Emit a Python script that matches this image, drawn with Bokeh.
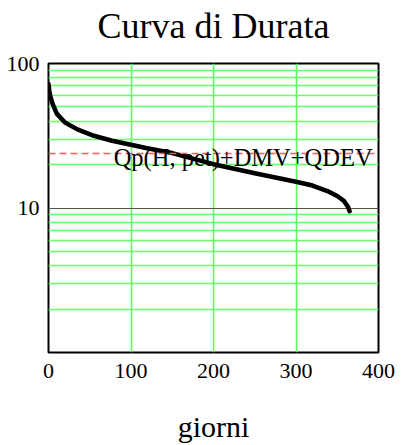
from bokeh.plotting import figure
from bokeh.models import FixedTicker, NumeralTickFormatter, Span, Label
from bokeh.embed import file_html
from bokeh.resources import INLINE

# --- data ---
days = [0, 1, 2, 5, 10, 20, 35, 55, 77, 100, 118, 150, 200, 250, 300, 320, 338, 350, 358, 363, 365]
flow = [72, 65, 60, 52.5, 45, 39, 35, 31.6, 29.2, 27.4, 26, 24, 20.1, 17.4, 15.2, 14.3, 13.1, 12.1, 11.2, 10.2, 9.5]
threshold = 23.8
threshold_label = "Qp(H, pet)+DMV+QDEV"
x_ticks = [0, 100, 200, 300, 400]
y_major = [10, 100]
y_minor = [2, 3, 4, 5, 6, 7, 8, 9, 20, 30, 40, 50, 60, 70, 80, 90]

SERIF = "Liberation Serif"

p = figure(width=404, height=445, y_axis_type="log",
           x_range=(0, 400), y_range=(1, 100),
           output_backend="svg", toolbar_location=None,
           min_border_left=48, min_border_right=26,
           min_border_top=63, min_border_bottom=93)

p.title.text = "Curva di Durata"
p.title.text_font = SERIF
p.title.text_font_size = "36px"
p.title.text_font_style = "normal"
p.title.align = "center"
p.title.text_color = "black"
p.title.standoff = 0
p.title.padding = dict(left=0, right=0, top=0, bottom=18)

p.outline_line_color = "black"
p.outline_line_width = 2
p.background_fill_color = "white"
p.border_fill_color = "white"

# x axis
p.xaxis.ticker = FixedTicker(ticks=x_ticks)
p.xaxis.major_label_text_font = SERIF
p.xaxis.major_label_text_font_size = "22px"
p.xaxis.major_label_text_color = "black"
p.xaxis.major_tick_line_color = None
p.xaxis.minor_tick_line_color = None
p.xaxis.axis_line_color = None
p.xaxis.major_label_standoff = 5
p.xaxis.axis_label = "giorni"
p.xaxis.axis_label_text_font = SERIF
p.xaxis.axis_label_text_font_size = "30px"
p.xaxis.axis_label_text_font_style = "normal"
p.xaxis.axis_label_text_color = "black"
p.xaxis.axis_label_standoff = 29

# y axis
yt = FixedTicker(ticks=y_major, minor_ticks=y_minor)
p.yaxis.ticker = yt
p.yaxis.formatter = NumeralTickFormatter(format="0")
p.yaxis.major_label_text_font = SERIF
p.yaxis.major_label_text_font_size = "22px"
p.yaxis.major_label_text_color = "black"
p.yaxis.major_tick_line_color = None
p.yaxis.minor_tick_line_color = None
p.yaxis.axis_line_color = None
p.yaxis.major_label_standoff = 3

# grids
p.xgrid.grid_line_color = "#55ff55"
p.xgrid.grid_line_width = 1.5
p.ygrid.ticker = yt
p.ygrid.grid_line_color = "#555555"
p.ygrid.grid_line_width = 1
p.ygrid.minor_grid_line_color = "#66ff66"
p.ygrid.minor_grid_line_width = 1.5

# threshold line
p.add_layout(Span(location=threshold, dimension="width", line_color="#ff5a5a",
                  line_width=1.5, line_dash="7 4"))
p.add_layout(Label(x=79, y=22.3, text=threshold_label, text_font=SERIF,
                   text_font_size="24.5px", text_color="black",
                   text_baseline="alphabetic", text_align="left"))

# duration curve
p.line(days, flow, line_color="black", line_width=4.5, line_cap="round", line_join="round")

open("out.html", "w").write(file_html(p, INLINE))
